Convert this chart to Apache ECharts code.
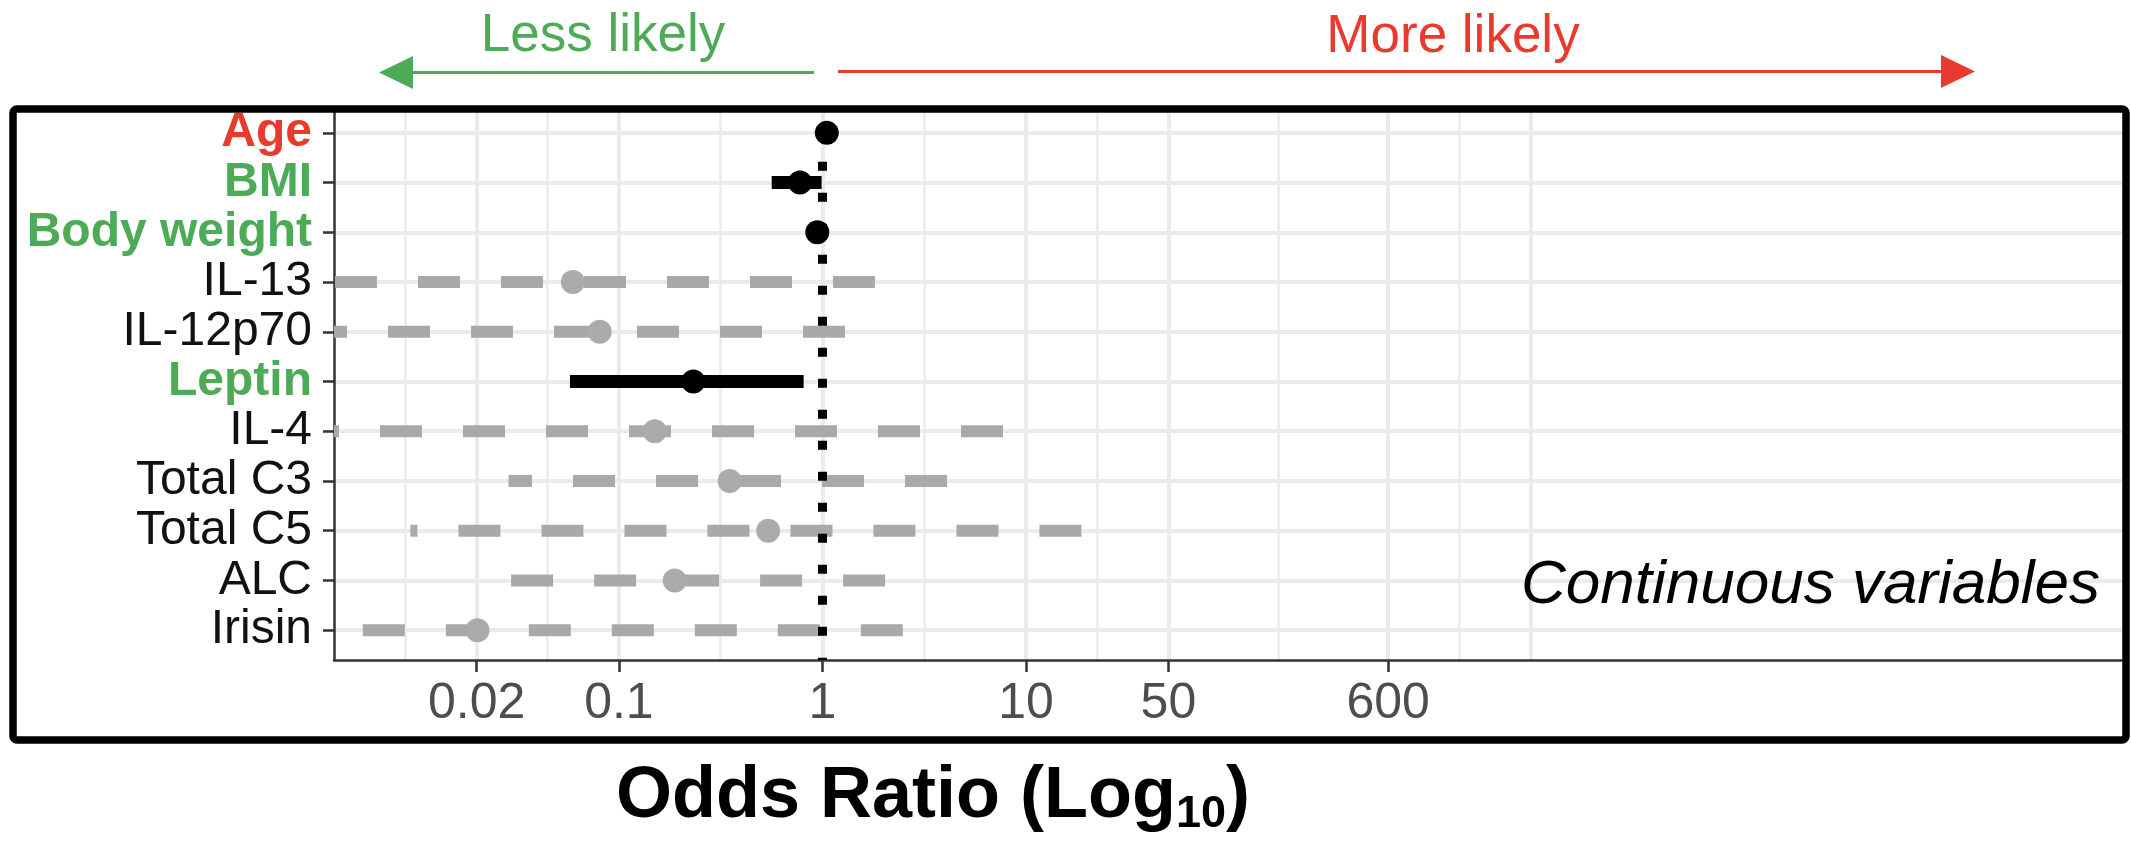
<!DOCTYPE html>
<html>
<head>
<meta charset="utf-8">
<title>Odds ratio forest plot</title>
<script src="https://cdn.jsdelivr.net/npm/echarts@6.0.0/dist/echarts.min.js"></script>
<style>
  html, body { margin: 0; padding: 0; background: #fff; }
  #main { width: 2131px; height: 841px; }
</style>
</head>
<body>
<div id="main"></div>
<script>
var FONT = '"Liberation Sans", Arial, Helvetica, sans-serif';
var GREEN = '#4dab57';
var RED = '#e83a2e';
var GREY = '#a9a9a9';

// rows from top to bottom
var variables = ['Age', 'BMI', 'Body weight', 'IL-13', 'IL-12p70', 'Leptin', 'IL-4', 'Total C3', 'Total C5', 'ALC', 'Irisin'];
// label colour: up = more likely, down = less likely, ns = not significant
var labelGroup = ['up', 'down', 'down', 'ns', 'ns', 'down', 'ns', 'ns', 'ns', 'ns', 'ns'];
var significant = [1, 1, 1, 0, 0, 1, 0, 0, 0, 0, 0];
var oddsRatio = [1.05, 0.775, 0.943, 0.0594, 0.0805, 0.232, 0.150, 0.350, 0.541, 0.188, 0.0202];
var ciLower = [1.03, 0.563, 0.92, 0.003, 0.003, 0.0575, 0.003, 0.0287, 0.00946, 0.0189, 0.003];
var ciUpper = [1.07, 0.99, 0.97, 1.81, 1.29, 0.808, 7.7, 4.09, 18.7, 2.03, 2.48];

// x axis breaks (odds ratio)
var tickValues = [0.02, 0.1, 1, 10, 50, 600];
var majorBreaks = [0.02, 0.1, 1, 10, 50, 600, 3000];
var refValue = 1;

var log10 = function (v) { return Math.log(v) / Math.LN10; };

// panel limits in log10 units
var xMin = -2.3993;
var xMax = 6.3826;

// minor grid halfway between the major breaks (log space), like ggplot
var majorLogs = majorBreaks.map(log10);
var minorLogs = [majorLogs[0] - (majorLogs[1] - majorLogs[0]) / 2];
for (var k = 0; k < majorLogs.length - 1; k++) {
    minorLogs.push((majorLogs[k] + majorLogs[k + 1]) / 2);
}

var rowIndex = variables.map(function (n, i) { return i; });

var ciData = variables.map(function (n, i) {
    return [i, log10(ciLower[i]), log10(ciUpper[i]), significant[i]];
});

var pointData = variables.map(function (n, i) {
    return {
        value: [log10(oddsRatio[i]), i],
        itemStyle: { color: significant[i] ? '#000' : '#ababab', opacity: 1 }
    };
});

function gridOnlyAxis(logValues, width) {
    return {
        type: 'value',
        gridIndex: 0,
        min: xMin,
        max: xMax,
        axisLine: { show: false, onZero: false },
        axisLabel: { show: false },
        axisTick: { show: false, customValues: logValues },
        splitLine: { show: true, lineStyle: { color: '#ebebeb', width: width } }
    };
}

var myChart = echarts.init(document.getElementById('main'));

myChart.setOption({
    animation: false,
    backgroundColor: '#fff',
    grid: {
        left: 334,
        right: 9,
        top: 108,
        bottom: 181
    },
    xAxis: [
        {
            type: 'value',
            gridIndex: 0,
            position: 'bottom',
            min: xMin,
            max: xMax,
            axisLine: { show: true, onZero: false, lineStyle: { color: '#333', width: 2.5 } },
            axisTick: {
                show: true,
                length: 12,
                customValues: tickValues.map(log10),
                lineStyle: { color: '#333', width: 2.5 }
            },
            axisLabel: {
                customValues: tickValues.map(log10),
                formatter: function (v) {
                    return String(+Math.pow(10, v).toPrecision(3));
                },
                fontFamily: FONT,
                fontSize: 50,
                color: '#4d4d4d',
                margin: 19
            },
            splitLine: { show: false }
        },
        gridOnlyAxis(majorLogs, 4),
        gridOnlyAxis(minorLogs, 2.5)
    ],
    yAxis: {
        type: 'value',
        inverse: true,
        min: -0.5,
        max: 10.6,
        axisLine: { show: true, onZero: false, lineStyle: { color: '#333', width: 2.5 } },
        axisTick: {
            show: true,
            length: 11,
            customValues: rowIndex,
            lineStyle: { color: '#333', width: 2.5 }
        },
        axisLabel: {
            customValues: rowIndex,
            margin: 22,
            formatter: function (v) {
                var i = Math.round(v);
                return '{' + labelGroup[i] + '|' + variables[i] + '}';
            },
            rich: {
                up: { color: RED, fontWeight: 'bold', fontSize: 48, fontFamily: FONT },
                down: { color: GREEN, fontWeight: 'bold', fontSize: 48, fontFamily: FONT },
                ns: { color: '#111', fontSize: 48, fontFamily: FONT }
            }
        },
        splitLine: { show: true, lineStyle: { color: '#ebebeb', width: 4 } }
    },
    series: [
        {
            name: 'CI',
            type: 'custom',
            clip: true,
            silent: true,
            encode: { x: [1, 2], y: 0 },
            data: ciData,
            renderItem: function (params, api) {
                var row = api.value(0);
                // drawn from the upper bound leftwards, as in the original
                var hi = api.coord([api.value(2), row]);
                var lo = api.coord([api.value(1), row]);
                var sig = api.value(3);
                return {
                    type: 'line',
                    shape: { x1: hi[0], y1: hi[1], x2: lo[0], y2: lo[1] },
                    style: {
                        stroke: sig ? '#000' : GREY,
                        lineWidth: sig ? 13 : 12,
                        lineDash: sig ? null : [42, 41],
                        lineCap: 'butt'
                    }
                };
            }
        },
        {
            name: 'OR = 1',
            type: 'line',
            clip: true,
            silent: true,
            symbol: 'none',
            data: [[log10(refValue), -0.5], [log10(refValue), 10.6]],
            lineStyle: { color: '#000', width: 9, type: [9, 22], dashOffset: 8.3, cap: 'butt' }
        },
        {
            name: 'OR',
            type: 'scatter',
            symbol: 'circle',
            symbolSize: 24,
            itemStyle: { opacity: 1 },
            data: pointData
        }
    ],
    graphic: [
        {
            type: 'line', z: 100,
            shape: { x1: 814, y1: 72.5, x2: 405, y2: 72.5 },
            style: { stroke: GREEN, lineWidth: 3 }
        },
        {
            type: 'polygon', z: 100,
            shape: { points: [[379, 72.5], [413, 56], [413, 89]] },
            style: { fill: GREEN }
        },
        {
            type: 'line', z: 100,
            shape: { x1: 838, y1: 71.5, x2: 1950, y2: 71.5 },
            style: { stroke: RED, lineWidth: 3 }
        },
        {
            type: 'polygon', z: 100,
            shape: { points: [[1975, 71.5], [1941, 55], [1941, 88]] },
            style: { fill: RED }
        },
        {
            type: 'text', z: 100, x: 603, y: 36,
            style: {
                text: 'Less likely', fill: GREEN, fontFamily: FONT, fontSize: 53,
                align: 'center', verticalAlign: 'middle'
            }
        },
        {
            type: 'text', z: 100, x: 1453, y: 37,
            style: {
                text: 'More likely', fill: RED, fontFamily: FONT, fontSize: 53,
                align: 'center', verticalAlign: 'middle'
            }
        },
        {
            type: 'text', z: 100, x: 2100, y: 586,
            style: {
                text: 'Continuous variables', fill: '#000', fontFamily: FONT, fontSize: 62,
                fontStyle: 'italic', align: 'right', verticalAlign: 'middle'
            }
        },
        {
            type: 'rect', z: 100,
            shape: { x: 13, y: 109, width: 2113, height: 631, r: 4 },
            style: { fill: 'none', stroke: '#000', lineWidth: 7.5 }
        },
        {
            type: 'text', z: 100, x: 933, y: 757,
            style: {
                text: '{m|Odds Ratio (Log}{s|10}{m|)}',
                align: 'center',
                verticalAlign: 'top',
                rich: {
                    m: { fontFamily: FONT, fontWeight: 'bold', fontSize: 72, lineHeight: 80, fill: '#000' },
                    s: { fontFamily: FONT, fontWeight: 'bold', fontSize: 45, lineHeight: 28, verticalAlign: 'bottom', fill: '#000' }
                }
            }
        }
    ]
});
</script>
</body>
</html>
